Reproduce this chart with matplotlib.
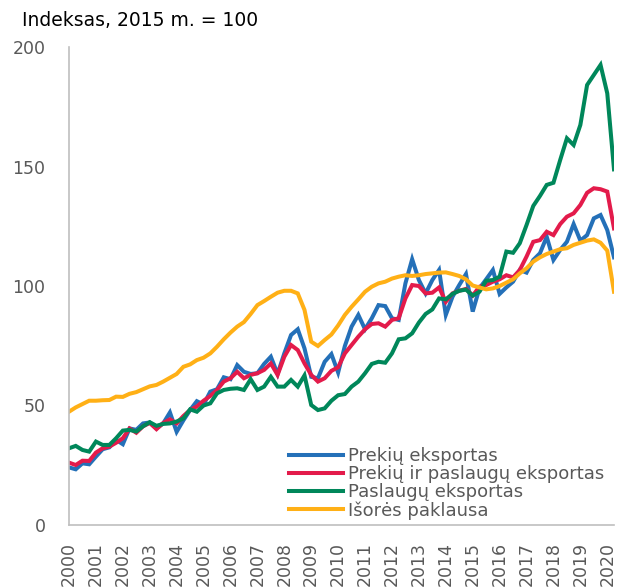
import numpy as np
import matplotlib
matplotlib.use('Agg')
from matplotlib import pyplot as plt

# ketvirtiniai duomenys 2000 K1 - 2020 K2
quarters = 2000 + np.arange(82) / 4
years = list(range(2000, 2021))

prekes = [24.1, 23.3, 25.8, 25.4, 28.6, 31.7, 32.5, 35.6, 33.8, 40.4,
          39.8, 42.5, 42.9, 40.4, 42.5, 47.1, 39.0, 43.8, 48.1, 51.8,
          50.4, 55.8, 56.8, 61.8, 61.0, 66.9, 64.1, 63.2, 63.5, 67.4,
          70.4, 63.2, 71.8, 79.5, 81.9, 73.9, 62.0, 61.4, 68.3, 71.5,
          63.8, 74.9, 83.0, 87.9, 81.9, 86.5, 92.0, 91.6, 86.5, 85.8,
          101.1, 111.2, 102.5, 96.9, 102.5, 106.7, 87.9, 95.5, 100.4, 105.0,
          89.3, 99.0, 102.8, 106.7, 96.7, 99.4, 101.8, 106.7, 105.6, 110.9,
          113.7, 120.6, 110.9, 115.1, 118.5, 125.9, 119.0, 121.3, 128.3, 129.7,
          123.4, 112.0]

prekes_paslaugos = [26.1, 25.1, 26.9, 26.8, 30.3, 32.1, 32.8, 34.4, 36.3, 40.4,
                    38.6, 41.3, 42.7, 40.1, 42.7, 44.2, 42.5, 45.6, 48.1, 49.6,
                    52.0, 54.0, 56.5, 60.0, 61.4, 64.1, 61.4, 62.8, 63.5, 64.9,
                    67.6, 62.8, 70.4, 75.3, 73.2, 67.6, 62.8, 60.0, 61.4, 64.5,
                    66.0, 71.8, 75.3, 78.8, 81.9, 84.1, 84.4, 83.0, 85.8, 86.5,
                    94.8, 100.4, 100.0, 96.9, 97.2, 99.4, 93.4, 96.9, 98.0, 98.8,
                    96.0, 99.7, 100.4, 101.8, 102.8, 104.5, 103.6, 106.7, 112.3, 118.5,
                    119.2, 122.7, 121.3, 125.9, 129.0, 130.4, 133.9, 139.0, 140.9, 140.5,
                    139.5, 124.1]

paslaugos = [32.1, 33.1, 31.4, 30.7, 34.9, 33.5, 33.5, 36.3, 39.5, 39.8,
             39.1, 41.3, 43.0, 41.5, 42.3, 42.5, 43.3, 44.6, 48.4, 47.4,
             50.0, 50.9, 55.1, 56.5, 57.0, 57.2, 56.5, 61.0, 56.5, 57.9,
             62.0, 57.9, 57.9, 60.7, 57.9, 62.6, 50.2, 48.1, 48.8, 52.0,
             54.3, 54.8, 57.9, 60.0, 63.5, 67.4, 68.3, 67.9, 71.8, 77.7,
             78.1, 80.2, 84.7, 88.3, 90.2, 94.8, 94.4, 96.7, 98.0, 98.5,
             96.0, 97.6, 102.2, 102.5, 103.9, 114.4, 113.9, 117.9, 125.5, 133.5,
             137.7, 142.3, 143.2, 152.7, 161.8, 159.0, 167.4, 184.1, 188.3, 192.5,
             180.6, 148.8]

paklausa = [47.4, 49.2, 50.6, 52.0, 52.0, 52.2, 52.3, 53.7, 53.6, 54.9,
            55.6, 56.8, 58.0, 58.6, 60.0, 61.6, 63.2, 66.2, 67.2, 69.0,
            70.0, 71.8, 74.6, 77.7, 80.5, 83.0, 84.9, 88.3, 92.0, 93.7,
            95.5, 97.2, 98.0, 98.0, 96.9, 90.0, 76.7, 74.9, 77.4, 79.7,
            83.5, 87.9, 91.3, 94.4, 97.6, 99.7, 101.1, 101.8, 103.1, 103.9,
            104.5, 104.2, 104.5, 105.0, 105.3, 105.6, 105.7, 105.0, 104.2, 102.8,
            100.2, 99.4, 98.6, 99.0, 100.0, 101.4, 102.8, 105.3, 107.4, 110.2,
            112.0, 113.4, 114.4, 115.4, 115.8, 117.2, 118.1, 119.0, 119.5, 118.1,
            114.8, 97.6]

labels = ['Prekių eksportas', 'Prekių ir paslaugų eksportas',
          'Paslaugų eksportas', 'Išorės paklausa']
colors = ['#2470b8', '#e31b4b', '#00875a', '#ffb016']

fig = plt.figure(figsize=(6.19, 5.88), dpi=100)
ax = fig.add_axes([69 / 619, 63 / 588, 545 / 619, 478 / 588])

for vals, lab, col in zip([prekes, prekes_paslaugos, paslaugos, paklausa], labels, colors):
    ax.plot(quarters, vals, color=col, lw=2.9, label=lab, solid_joinstyle='miter')

ax.set_xlim(2000, 2020.25)
ax.set_ylim(0, 200)
ax.set_yticks([0, 50, 100, 150, 200])
ax.set_xticks(years)
ax.set_xticklabels([str(y) for y in years], rotation=90)
ax.tick_params(axis='both', length=0, labelsize=12.5, colors='#595959')
ax.tick_params(axis='x', pad=12)
ax.tick_params(axis='y', pad=17)

for s in ['top', 'right']:
    ax.spines[s].set_visible(False)
for s in ['left', 'bottom']:
    ax.spines[s].set_color('#bfbfbf')
    ax.spines[s].set_linewidth(1.2)

leg = ax.legend(loc='lower right', bbox_to_anchor=(1 - 3 / 545, -2 / 478), frameon=False,
                fontsize=13, handlelength=2.95, handletextpad=0.27,
                labelspacing=0, borderaxespad=0, borderpad=0.4)
for t in leg.get_texts():
    t.set_color('#595959')

fig.text(22 / 619, 1 - 20 / 588, 'Indeksas, 2015 m. = 100', fontsize=13.5,
         va='center', ha='left', color='black')

plt.savefig('out.png', dpi=100)
